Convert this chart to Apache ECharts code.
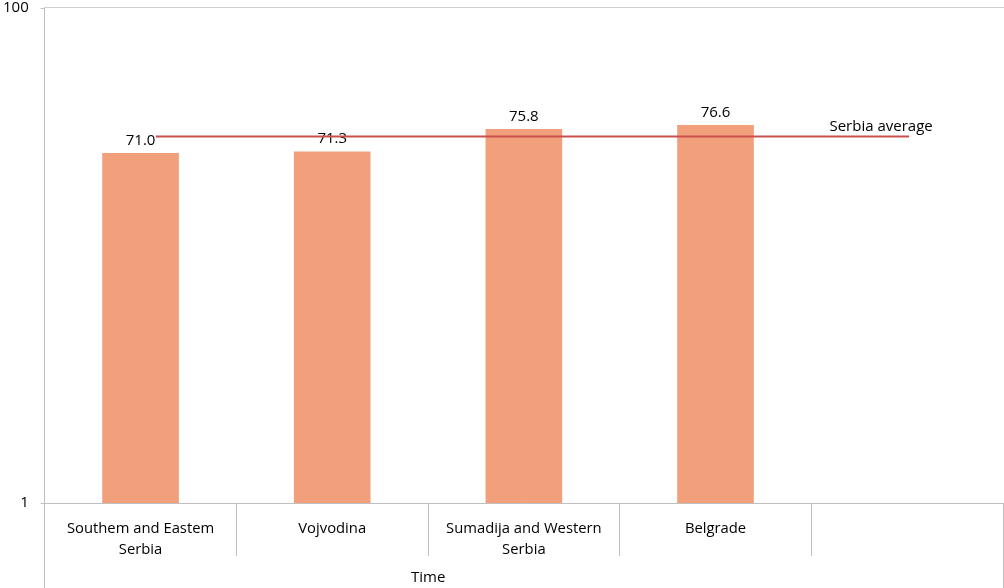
<!DOCTYPE html>
<html>
<head>
<meta charset="utf-8">
<script src="https://cdn.jsdelivr.net/npm/echarts@6/dist/echarts.min.js"></script>
<style>html,body{margin:0;padding:0;background:#fff}#c{width:1004px;height:588px}</style>
</head>
<body>
<div id="c"></div>
<script>
const categories = ['Southem and Eastem\nSerbia', 'Vojvodina', 'Sumadija and Western\nSerbia', 'Belgrade', ''];
const values = [71.0, 71.3, 75.8, 76.6, null];
const yTicks = [1, 100];
const avgName = 'Serbia average';
const avgX = [0.08, 4.01];
const avgValue = [74.3, 74.3];
const axisTitle = 'Time';

const FONT = 'Open Sans';
const chart = echarts.init(document.getElementById('c'), null, {renderer: 'canvas'});
chart.setOption({
  animation: false,
  grid: {left: 44, right: 1, top: 8, bottom: 85, containLabel: false},
  xAxis: [{
    type: 'category', data: categories, boundaryGap: true,
    axisLine: {show: true, lineStyle: {color: '#BFBFBF', width: 1}},
    axisTick: {show: true, interval: 0, length: 53, lineStyle: {color: '#BFBFBF'}},
    axisLabel: {interval: 0, margin: 15, color: '#000', fontFamily: FONT, fontSize: 14.8, lineHeight: 21}
  }, {
    type: 'value', min: -0.5, max: 4.5, show: false
  }],
  yAxis: {
    type: 'value', min: 1, max: 100,
    axisLine: {show: true, onZero: false, lineStyle: {color: '#BFBFBF'}},
    axisTick: {show: true, length: 4, customValues: yTicks, lineStyle: {color: '#BFBFBF'}},
    axisLabel: {customValues: yTicks, margin: 16, color: '#000', fontFamily: FONT, fontSize: 15},
    splitLine: {show: false}
  },
  series: [{
    type: 'bar', data: values, barWidth: '40%', xAxisIndex: 0,
    itemStyle: {color: '#F2A07C'},
    label: {show: true, position: 'top', distance: 5, color: '#000', fontFamily: FONT, fontSize: 15,
      formatter: p => p.value == null ? '' : p.value.toFixed(1)}
  }, {
    type: 'line', xAxisIndex: 1, name: avgName, z: 5,
    data: avgX.map((x, i) => [x, avgValue[i]]),
    symbol: 'circle', symbolSize: 0, showSymbol: true,
    lineStyle: {color: '#C9504C', width: 2},
    label: {show: true, position: 'top', distance: 2, offset: [-28, 0], color: '#000', fontFamily: FONT, fontSize: 15,
      formatter: p => p.dataIndex === avgX.length - 1 ? avgName : ''}
  }],
  graphic: [
    {type: 'line', shape: {x1: 44.5, y1: 7.5, x2: 1004, y2: 7.5}, style: {stroke: '#D0D0D0', lineWidth: 1}},
    {type: 'line', shape: {x1: 44.5, y1: 503, x2: 44.5, y2: 588}, style: {stroke: '#BFBFBF', lineWidth: 1}},
    {type: 'line', shape: {x1: 1003.5, y1: 503, x2: 1003.5, y2: 588}, style: {stroke: '#BFBFBF', lineWidth: 1}},
    {type: 'text', left: 411, top: 570, style: {text: axisTitle, fill: '#000', font: '15px "Open Sans"'}}
  ]
});
</script>
</body>
</html>
